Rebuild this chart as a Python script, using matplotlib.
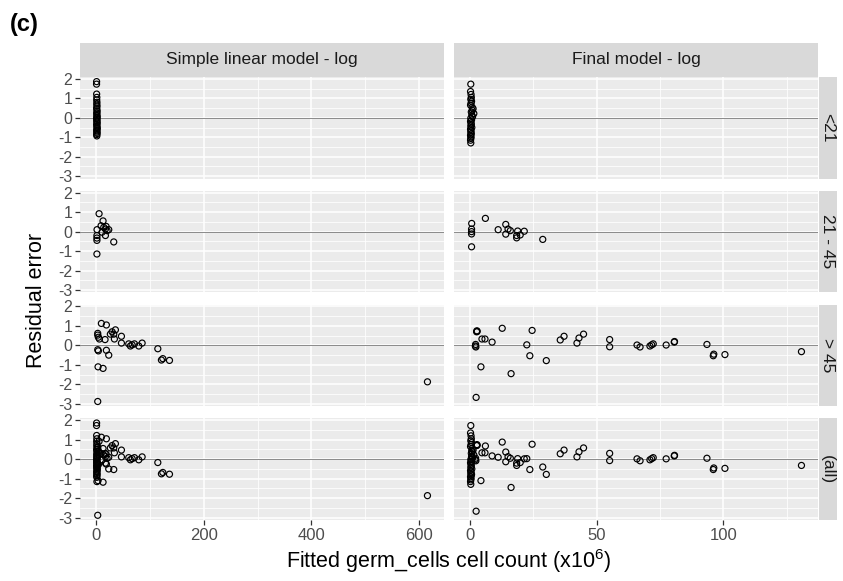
import numpy as np
import matplotlib
matplotlib.use("Agg")
import matplotlib.pyplot as plt

plt.rcParams['font.family'] = ['Liberation Sans', 'DejaVu Sans']
plt.rcParams['mathtext.fontset'] = 'custom'
plt.rcParams['mathtext.rm'] = 'Liberation Sans'
plt.rcParams['axes.unicode_minus'] = False

# ---------------- data ----------------
models = ["Simple linear model - log", "Final model - log"]
groups = ["<21", "21 - 45", "> 45", "(all)"]

lt21_simple_x = [0.4, 0.3, 0.5, 0.8, 0.6, 1.0, 0.7, 1.2, 0.5, 0.9, 1.4, 0.6, 1.1, 0.8, 1.6,
                 0.4, 1.3, 0.7, 1.0, 1.5, 0.5, 1.2, 0.9, 1.7, 0.6, 1.1, 0.8, 1.4, 0.5, 0.9]
lt21_simple_y = [1.86, 1.73, 1.22, 1.05, 0.92, 0.80, 0.70, 0.60, 0.50, 0.42, 0.33, 0.25, 0.18, 0.10, 0.04,
                 -0.02, -0.08, -0.14, -0.20, -0.27, -0.34, -0.41, -0.48, -0.55, -0.62, -0.68, -0.74, -0.80, -0.86, -0.93]

lt21_final_x = [0.3, 0.2, 0.4, 0.5, 0.3, 0.6, 0.4, 0.2, 0.8, 1.2, 0.9, 0.5, 1.5, 0.7, 1.0, 0.3,
                0.6, 0.2, 0.4, 0.5, 0.3, 0.7, 0.2, 0.4, 0.3, 0.5, 0.2, 0.4, 0.3, 0.2, 0.3]
lt21_final_y = [1.73, 1.35, 1.20, 1.05, 0.95, 0.85, 0.75, 0.65, 0.55, 0.47, 0.38, 0.30, 0.22, 0.14, 0.06, -0.02,
                -0.10, -0.18, -0.26, -0.34, -0.42, -0.50, -0.58, -0.66, -0.74, -0.82, -0.90, -0.98, -1.06, -1.15, -1.29]

mid_simple_x = [5.0, 1.2, 1.0, 1.0, 1.0, 1.0, 12.4, 8.7, 13.7, 16.8, 19.9, 23.0, 16.8, 10.6, 32.3, 18.0]
mid_simple_y = [0.92, 0.10, -0.20, -0.33, -0.45, -1.15, 0.55, 0.30, 0.22, 0.13, 0.05, 0.10, -0.20, -0.03, -0.53, 0.27]

mid_final_x = [0.65, 0.6, 0.6, 0.6, 0.6, 6.06, 11.1, 14.1, 14.1, 15.0, 15.9, 18.8, 18.4, 19.8, 18.4, 21.4, 28.7]
mid_final_y = [0.42, 0.13, 0.00, -0.12, -0.78, 0.68, 0.10, 0.37, -0.13, 0.13, 0.05, 0.03, -0.20, -0.17, -0.32, 0.02, -0.40]

gt45_simple_x = [9.3, 18.6, 2.5, 2.5, 3.7, 5.6, 16.1, 26.0, 29.2, 35.4, 32.3, 33.5, 46.6, 46.6, 60.2, 63.3,
                 66.5, 70.8, 78.9, 85.1, 2.5, 3.7, 18.6, 23.0, 3.1, 12.4, 2.5, 114.3, 121.0, 123.6, 136.0, 616.0]
gt45_simple_y = [1.13, 1.05, 0.62, 0.53, 0.42, 0.33, 0.30, 0.58, 0.70, 0.80, 0.58, 0.33, 0.47, 0.12, 0.08, -0.03,
                 0.03, 0.08, -0.03, 0.12, -0.22, -0.28, -0.25, -0.50, -1.10, -1.18, -2.88, -0.17, -0.75, -0.68, -0.77, -1.87]

gt45_final_x = [2.7, 2.8, 2.6, 2.2, 2.3, 2.1, 4.7, 5.9, 8.7, 12.7, 4.3, 2.4, 16.2, 22.4, 24.5, 23.6, 30.1,
                35.6, 37.1, 42.2, 43.0, 44.8, 55.1, 55.1, 65.9, 67.1, 71.0, 71.7, 72.3, 77.4, 80.6, 80.7,
                93.5, 96.0, 96.2, 100.6, 130.8]
gt45_final_y = [0.75, 0.72, 0.70, 0.05, -0.08, -0.03, 0.33, 0.33, 0.17, 0.88, -1.10, -2.67, -1.45, 0.03, 0.77, -0.53, -0.78,
                0.28, 0.47, 0.12, 0.38, 0.58, 0.30, -0.07, 0.02, -0.08, -0.03, 0.03, 0.08, 0.02, 0.17, 0.20,
                0.05, -0.53, -0.45, -0.47, -0.32]

data = {
    (0, 0): (lt21_simple_x, lt21_simple_y), (0, 1): (lt21_final_x, lt21_final_y),
    (1, 0): (mid_simple_x, mid_simple_y), (1, 1): (mid_final_x, mid_final_y),
    (2, 0): (gt45_simple_x, gt45_simple_y), (2, 1): (gt45_final_x, gt45_final_y),
}
for c in range(2):
    xs, ys = [], []
    for r in range(3):
        xs += data[(r, c)][0]
        ys += data[(r, c)][1]
    data[(3, c)] = (xs, ys)

x_major = [[0, 200, 400, 600], [0, 50, 100]]
x_minor = [[100, 300, 500], [25, 75, 125]]
y_major = [-3, -2, -1, 0, 1, 2]
y_minor = [-2.5, -1.5, -0.5, 0.5, 1.5]

# ---------------- layout ----------------
W, H = 843, 581
fig = plt.figure(figsize=(W / 100, H / 100), dpi=100)

def box(x0, y0, x1, y1):
    return [x0 / W, 1 - y1 / H, (x1 - x0) / W, (y1 - y0) / H]

col_x = [(80, 444), (454, 818)]
row_h = 101.5
row_gap = 12.3
row_y = [77 + i * (row_h + row_gap) for i in range(4)]

def expand(vals):
    lo, hi = min(vals), max(vals)
    d = (hi - lo) * 0.05
    return lo - d, hi + d

all_y = []
for c in range(2):
    all_y += data[(3, c)][1]
ylim = expand(all_y)
xlims = [expand(data[(3, c)][0]) for c in range(2)]

tick_col = '#4D4D4D'
for r in range(4):
    for c in range(2):
        x0, x1 = col_x[c]
        y0 = row_y[r]
        ax = fig.add_axes(box(x0, y0, x1, y0 + row_h))
        ax.set_facecolor('#EBEBEB')
        for s in ax.spines.values():
            s.set_visible(False)
        ax.set_xlim(*xlims[c])
        ax.set_ylim(*ylim)
        ax.set_xticks(x_major[c])
        ax.set_xticks(x_minor[c], minor=True)
        ax.set_yticks(y_major)
        ax.set_yticks(y_minor, minor=True)
        ax.set_axisbelow(True)
        ax.grid(which='major', color='white', lw=1.15)
        ax.grid(which='minor', color='white', lw=0.55)
        ax.tick_params(which='minor', length=0)
        ax.tick_params(which='major', color='#333333', length=3.5, width=0.9,
                       labelcolor=tick_col, pad=2)
        ax.tick_params(axis='x', labelsize=12)
        ax.tick_params(axis='y', labelsize=11.5)
        if r < 3:
            ax.tick_params(axis='x', which='both', bottom=False, labelbottom=False)
        if c == 1:
            ax.tick_params(axis='y', which='both', left=False, labelleft=False)
        ax.axhline(0, color='#8a8a8a', lw=0.7, zorder=1.5)
        xs, ys = data[(r, c)]
        ax.scatter(xs, ys, s=19, facecolors='none', edgecolors='black',
                   linewidths=0.85, zorder=3)

# top strips
for c in range(2):
    x0, x1 = col_x[c]
    sa = fig.add_axes(box(x0, 43, x1, 76.5))
    sa.set_facecolor('#D9D9D9')
    sa.set_xticks([]); sa.set_yticks([])
    for s in sa.spines.values():
        s.set_visible(False)
    sa.text(0.5, 0.5, models[c], ha='center', va='center', fontsize=12.5,
            color='#1A1A1A', transform=sa.transAxes)

# right strips
for r in range(4):
    y0 = row_y[r]
    sa = fig.add_axes(box(818.5, y0, 837, y0 + row_h))
    sa.set_facecolor('#D9D9D9')
    sa.set_xticks([]); sa.set_yticks([])
    for s in sa.spines.values():
        s.set_visible(False)
    sa.text(0.5, 0.5, groups[r], ha='center', va='center', fontsize=12.5,
            color='#1A1A1A', rotation=-90, transform=sa.transAxes)

fig.text(449 / W, 1 - 561 / H, r'Fitted germ_cells cell count (x10$^{6}$)',
         ha='center', va='center', fontsize=15.5, color='black')
fig.text(36 / W, 1 - 300 / H, 'Residual error', rotation=90,
         ha='center', va='center', fontsize=15.5, color='black')
fig.text(24.5 / W, 1 - 25 / H, '(c)', ha='center', va='center',
         fontsize=17, fontweight='bold', color='black')

fig.savefig('out.png', dpi=100)
